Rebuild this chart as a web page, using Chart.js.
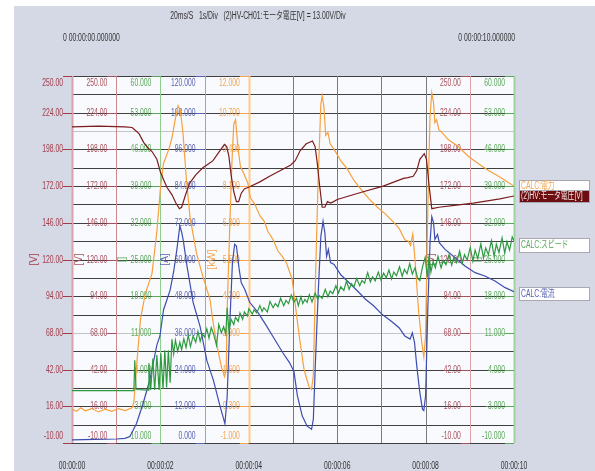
<!DOCTYPE html>
<html>
<head>
<meta charset="utf-8">
<script src="https://cdn.jsdelivr.net/npm/chart.js@4.4.1/dist/chart.umd.min.js"></script>
<style>
  html, body { margin: 0; padding: 0; background: #fff; }
  #wrap { width: 595px; height: 471px; }
</style>
</head>
<body>
<div id="wrap"><canvas id="chart" width="595" height="471"></canvas></div>
<script>
// tick labels
const timeTicks = [0, 2, 4, 6, 8, 10];
const timeLabels = ["00:00:00", "00:00:02", "00:00:04", "00:00:06", "00:00:08", "00:00:10"];
const voltTicks = ["250.00", "224.00", "198.00", "172.00", "146.00", "120.00", "94.00", "68.00", "42.00", "16.00", "-10.00"];
const speedTicks = ["60.000", "53.000", "46.000", "39.000", "32.000", "25.000", "18.000", "11.000", "4.000", "-3.000", "-10.000"];
const currentTicks = ["120.000", "108.000", "96.000", "84.000", "72.000", "60.000", "48.000", "36.000", "24.000", "12.000", "0.000"];
const powerTicks = ["12.000", "10.700", "9.400", "8.100", "6.800", "5.500", "4.200", "2.900", "1.600", "0.300", "-1.000"];

// series, [time s, value]
const voltage = [[0,214],[0.6,214.5],[1.2,214],[1.36,213.5],[1.45,211],[1.52,209],[1.62,203],[1.72,199],[1.81,196.5],[1.92,191],
  [2.0,182],[2.08,176],[2.15,171],[2.26,166],[2.35,160],[2.43,156],[2.48,157],[2.56,165],[2.66,174],[2.8,180],[2.96,185],
  [3.1,188],[3.19,190],[3.3,195],[3.45,201.5],[3.5,200],[3.55,193],[3.6,180],[3.66,168],[3.72,161],[3.77,161],[3.83,167],
  [3.9,170],[4.02,171.5],[4.25,175],[4.47,179],[4.77,184],[4.95,187],[5.05,190],[5.16,197],[5.3,202],[5.44,204],[5.5,200],
  [5.55,188],[5.6,173],[5.66,157],[5.72,157],[5.78,161],[5.85,160],[5.92,161],[6.0,162.5],[6.53,167.5],[7.04,172],[7.5,177.5],
  [7.6,178],[7.72,179],[7.8,183],[7.87,191],[7.97,195],[8.02,191],[8.08,172],[8.14,156],[8.3,157],[8.7,158.5],[9.08,160],
  [9.68,163],[10,165]];

const power = [[0,0.2],[0.1,0.12],[0.2,0.25],[0.3,0.14],[0.45,0.22],[0.6,0.1],[0.75,0.2],[0.9,0.12],[1.05,0.22],[1.2,0.15],
  [1.36,0.25],[1.4,0.45],[1.47,1.9],[1.55,3.4],[1.66,4.3],[1.81,5.0],[1.92,6.5],[2.0,8.0],[2.07,8.9],[2.19,9.4],[2.26,9.8],
  [2.34,10.5],[2.4,10.95],[2.45,10.8],[2.51,10.0],[2.59,8.3],[2.67,7.0],[2.82,5.7],[2.97,4.85],[3.12,4.1],[3.2,3.2],[3.3,2.3],
  [3.38,1.7],[3.45,1.35],[3.49,1.6],[3.51,3.7],[3.57,6.7],[3.62,9.0],[3.66,10.3],[3.7,10.45],[3.76,9.4],[3.81,8.8],[3.87,8.6],
  [3.98,8.2],[4.03,7.7],[4.14,7.45],[4.25,7.05],[4.35,6.85],[4.43,6.5],[4.55,6.2],[4.66,5.8],[4.76,5.6],[4.86,5.35],[4.98,4.8],
  [5.06,3.8],[5.14,2.8],[5.25,1.6],[5.36,1.0],[5.42,0.9],[5.46,1.4],[5.51,4.9],[5.57,8.4],[5.63,11.0],[5.66,11.3],[5.7,10.9],
  [5.74,9.9],[5.79,10.0],[5.84,9.6],[5.93,9.4],[6.08,9.0],[6.23,8.7],[6.38,8.3],[6.53,8.0],[6.72,7.65],[6.91,7.35],[7.1,7.1],
  [7.29,6.8],[7.4,6.6],[7.53,6.2],[7.61,6.15],[7.66,6.0],[7.71,6.4],[7.76,5.5],[7.84,3.7],[7.91,2.6],[7.96,2.05],[8.0,2.8],
  [8.05,7.3],[8.1,10.6],[8.14,11.4],[8.18,11.05],[8.21,10.35],[8.25,10.45],[8.3,10.1],[8.4,9.95],[8.51,9.75],[8.74,9.5],
  [8.97,9.15],[9.19,8.9],[9.42,8.65],[9.65,8.45],[9.8,8.3],[10,8.1]];

const current = [[0,1],[0.5,1.2],[1.0,1.3],[1.2,1.5],[1.31,2.1],[1.46,6.4],[1.61,13],[1.76,20.6],[1.92,32],[1.99,35],[2.07,43.5],
  [2.22,50],[2.3,56],[2.37,63],[2.44,71],[2.48,69],[2.52,66],[2.6,58],[2.74,46],[2.9,38],[3.05,27],[3.2,20.5],[3.35,12],
  [3.46,6.3],[3.51,15],[3.57,39],[3.63,59],[3.68,65],[3.72,64.4],[3.78,57],[3.83,52.4],[3.91,50.2],[4.02,46],[4.21,42.6],
  [4.4,38.3],[4.58,34],[4.77,29.5],[4.92,26.3],[5.02,23.5],[5.1,15.4],[5.21,8.8],[5.32,5.5],[5.42,4.5],[5.46,7.7],[5.51,27.4],
  [5.57,49],[5.63,67.5],[5.68,72.5],[5.72,68.8],[5.76,61],[5.8,63.3],[5.85,59],[5.93,58.4],[6.08,55],[6.27,52.4],[6.46,49.7],
  [6.64,47],[6.83,44.8],[7.02,42],[7.21,40],[7.4,37.7],[7.53,35],[7.65,34],[7.7,36],[7.75,32.8],[7.8,25.2],[7.87,16.4],
  [7.93,11],[7.96,10.6],[8.0,15.4],[8.05,43.7],[8.1,65.5],[8.14,74],[8.18,72],[8.21,66.6],[8.27,68.2],[8.31,65.5],[8.44,63.3],
  [8.67,60.6],[8.89,57.9],[9.12,55.7],[9.34,54.6],[9.57,53],[9.8,50.8],[10,49.5]];

const speed = [[0,0],[1.4,0],[1.42,5.8],[1.45,0.2],[1.72,0.1],[1.74,5.2],[1.78,0.1],[1.83,6.1],[1.87,0.1],[1.92,6.8],[1.97,0.1],
  [2.01,7.1],[2.06,0.3],[2.1,7.7],[2.14,0.6],[2.18,7.7],[2.22,1.5],[2.26,9.8],[2.3,7.0],[2.34,9.6],[2.39,7.5],[2.44,9.2],
  [2.48,7.8],[2.53,9.9],[2.58,8.2],[2.63,10.6],[2.68,8.4],[2.74,10.4],[2.8,9.2],[2.85,11.3],[2.9,9.4],[2.95,10.8],[3.0,10.2],
  [3.05,11.8],[3.1,10.0],[3.15,12.0],[3.2,10.9],[3.27,8.6],[3.32,12.6],[3.38,11.0],[3.43,12.2],[3.48,10.8],[3.51,15.8],
  [3.55,11.4],[3.6,13.6],[3.66,12.6],[3.7,14.0],[3.76,13.2],[3.8,14.8],[3.86,13.6],[3.9,15.0],[3.97,14.2],[4.0,15.6],
  [4.08,14.6],[4.12,15.4],[4.18,14.8],[4.25,16.2],[4.3,15.1],[4.34,15.8],[4.42,15.0],[4.48,17.0],[4.55,15.8],[4.6,16.6],
  [4.66,16.0],[4.72,17.6],[4.79,16.2],[4.84,17.2],[4.9,16.6],[4.96,18.2],[5.02,16.8],[5.08,17.6],[5.12,16.2],[5.18,17.9],
  [5.22,16.6],[5.27,17.4],[5.32,16.8],[5.37,18.3],[5.43,16.9],[5.5,18.6],[5.56,17.4],[5.6,18.1],[5.66,17.6],[5.73,19.3],
  [5.79,17.9],[5.84,19.0],[5.9,18.5],[5.97,20.0],[6.03,18.6],[6.08,19.8],[6.15,19.1],[6.21,20.9],[6.27,19.3],[6.32,20.4],
  [6.38,19.8],[6.44,21.4],[6.51,20.0],[6.56,21.0],[6.62,20.5],[6.69,22.5],[6.75,20.7],[6.8,21.7],[6.86,20.9],[6.93,22.6],
  [6.99,21.1],[7.05,22.4],[7.11,21.5],[7.17,23.0],[7.23,21.3],[7.28,22.6],[7.34,21.9],[7.41,23.6],[7.47,21.8],[7.52,23.1],
  [7.58,22.3],[7.64,24.2],[7.7,22.2],[7.76,23.4],[7.82,21.4],[7.87,21.0],[7.93,23.6],[7.99,25.4],[8.04,21.6],[8.08,25.8],
  [8.12,22.6],[8.17,24.6],[8.22,23.4],[8.28,25.6],[8.35,23.4],[8.4,24.8],[8.46,24.0],[8.53,25.9],[8.59,23.9],[8.64,25.4],
  [8.7,24.4],[8.77,26.6],[8.83,24.3],[8.88,25.9],[8.94,24.9],[9.01,27.3],[9.07,24.7],[9.12,26.8],[9.18,25.2],[9.25,28.0],
  [9.31,25.3],[9.36,27.2],[9.42,25.9],[9.49,28.6],[9.55,25.6],[9.6,27.9],[9.66,26.3],[9.73,29.1],[9.79,26.2],[9.84,28.4],
  [9.9,26.8],[9.96,29.3],[10,28.6]];

const FONT = '10px "Liberation Sans", "Noto Sans CJK JP", sans-serif';
const SQ = 0.68; // narrow scope font

function txt(ctx, s, x, y, color, align) {
  ctx.save();
  ctx.translate(x, y);
  ctx.scale(SQ, 1);
  ctx.font = FONT;
  ctx.fillStyle = color;
  ctx.textAlign = align || "left";
  ctx.textBaseline = "middle";
  ctx.fillText(s, 0, 0);
  ctx.restore();
}

function vtxt(ctx, s, x, y, color) {
  ctx.save();
  ctx.translate(x, y);
  ctx.rotate(-Math.PI / 2);
  ctx.font = FONT;
  ctx.fillStyle = color;
  ctx.textAlign = "center";
  ctx.textBaseline = "middle";
  ctx.fillText(s, 0, 0);
  ctx.restore();
}

const RED = "#a8505c", GREEN = "#5aa85a", BLUE = "#5a64b4", ORANGE = "#f4a452";

// label columns: which scale, which time gridline they sit against
const columns = [
  { ticks: voltTicks, scale: "yV", at: 0, color: "#a33c4a" },
  { ticks: voltTicks, scale: "yV", at: 1, color: RED },
  { ticks: speedTicks, scale: "yS", at: 2, color: GREEN },
  { ticks: currentTicks, scale: "yI", at: 3, color: BLUE },
  { ticks: powerTicks, scale: "yP", at: 4, color: ORANGE },
  { ticks: voltTicks, scale: "yV", at: 9, color: RED },
  { ticks: speedTicks, scale: "yS", at: 10, color: GREEN }
];
const vLines = ["#d9a3ad", "#cf8a90", "#8fd08f", "#9aa0d8", "#ffc98a", "#7a7a7a", "#7a7a7a", "#7a7a7a", "#7a7a7a", "#dca4a4", "#9ed49e"];

const scopePlugin = {
  id: "scope",
  beforeDraw(chart) {
    const { ctx, chartArea: a, scales } = chart;
    const xs = scales.x, yV = scales.yV;
    ctx.save();
    ctx.fillStyle = "#fff";
    ctx.fillRect(0, 0, chart.width, chart.height);
    ctx.fillStyle = "#d5d8e5";
    ctx.fillRect(14, 6, chart.width - 14, chart.height - 6);
    ctx.fillStyle = "#f9fafd";
    ctx.fillRect(a.left, a.top, a.right - a.left, a.bottom - a.top);

    // header
    txt(ctx, "20ms/S   1s/Div   (2)HV-CH01:モータ電圧[V] = 13.00V/Div", 258, 16, "#333", "center");
    txt(ctx, "0 00:00:00.000000", 63, 38, "#333", "left");
    txt(ctx, "0 00:00:10.000000", 515, 38, "#333", "right");

    // horizontal grid, 13 V per division
    ctx.lineWidth = 1;
    for (let v = -10; v <= 250; v += 13) {
      const y = Math.round(yV.getPixelForValue(v)) + 0.5;
      ctx.strokeStyle = (v === 211 || v === 68) ? "#c4c4c8" : "#404040";
      ctx.beginPath(); ctx.moveTo(a.left, y); ctx.lineTo(a.right, y); ctx.stroke();
    }
    // vertical grid, 1 s per division
    for (let t = 0; t <= 10; t++) {
      const x = Math.round(xs.getPixelForValue(t)) + 0.5;
      ctx.strokeStyle = vLines[t];
      ctx.lineWidth = (t === 0 || t === 4 || t === 10) ? 2 : 1;
      ctx.beginPath(); ctx.moveTo(x, a.top); ctx.lineTo(x, a.bottom); ctx.stroke();
    }

    // label columns with small coloured ticks
    columns.forEach(c => {
      const sc = scales[c.scale];
      const x = xs.getPixelForValue(c.at);
      c.ticks.forEach((s, i) => {
        const y = Math.round(sc.getPixelForValue(parseFloat(s))) + 0.5;
        ctx.strokeStyle = c.color;
        ctx.lineWidth = 1;
        ctx.beginPath(); ctx.moveTo(x - 9, y); ctx.lineTo(x, y); ctx.stroke();
        let ly = y;
        if (i === 0) ly += 7;
        if (i === c.ticks.length - 1) ly -= 7;
        txt(ctx, s, x - 9, ly, c.color, "right");
      });
    });

    // unit labels
    const uy = yV.getPixelForValue(120);
    vtxt(ctx, "[V]", 34, uy, "#a33c4a");
    vtxt(ctx, "[V]", xs.getPixelForValue(0) + 7, uy, RED);
    vtxt(ctx, "[]", xs.getPixelForValue(1) + 6, uy, GREEN);
    vtxt(ctx, "[A]", xs.getPixelForValue(2) + 5, uy, BLUE);
    vtxt(ctx, "[kW]", xs.getPixelForValue(3) + 8, uy, ORANGE);
    vtxt(ctx, "[V]", xs.getPixelForValue(8) + 6, uy, RED);
    vtxt(ctx, "[]", xs.getPixelForValue(9) + 7, uy, GREEN);

    // time labels
    timeTicks.forEach((t, i) => {
      txt(ctx, timeLabels[i], xs.getPixelForValue(t), 466, "#333", "center");
    });
    ctx.restore();
  },
  afterDraw(chart) {
    const ctx = chart.ctx;
    const boxes = [
      { s: "CALC:電力", top: 180, h: 11, fill: "#fff", color: ORANGE },
      { s: "(2)HV:モータ電圧[V]", top: 190, h: 12, fill: "#6d0f12", color: "#f6e6e6" },
      { s: "CALC:スピード", top: 238, h: 14, fill: "#fff", color: GREEN },
      { s: "CALC:電流", top: 287, h: 13, fill: "#fff", color: BLUE }
    ];
    ctx.save();
    boxes.forEach(b => {
      ctx.fillStyle = b.fill;
      ctx.fillRect(519, b.top, 70, b.h);
      ctx.strokeStyle = "#a8a8b0";
      ctx.lineWidth = 1;
      ctx.strokeRect(519.5, b.top + 0.5, 70, b.h);
      txt(ctx, b.s, 521, b.top + b.h / 2 + 0.5, b.color, "left");
    });
    ctx.restore();
  }
};

const pts = arr => arr.map(p => ({ x: p[0], y: p[1] }));

new Chart(document.getElementById("chart"), {
  type: "line",
  data: {
    datasets: [
      { label: "(2)HV:モータ電圧[V]", data: pts(voltage), yAxisID: "yV", borderColor: "#7c1d1d" },
      { label: "CALC:スピード", data: pts(speed), yAxisID: "yS", borderColor: "#2e9a40" },
      { label: "CALC:電流", data: pts(current), yAxisID: "yI", borderColor: "#3e4db0" },
      { label: "CALC:電力", data: pts(power), yAxisID: "yP", borderColor: "#f7a03c" }
    ]
  },
  options: {
    responsive: false,
    animation: false,
    events: [],
    datasets: { line: { borderWidth: 1.2, pointRadius: 0, tension: 0, fill: false } },
    layout: { padding: { left: 72, top: 76, right: 81, bottom: 28 } },
    plugins: { legend: { display: false }, tooltip: { enabled: false } },
    scales: {
      x: { type: "linear", min: 0, max: 10, display: false },
      yV: { type: "linear", min: -10, max: 250, display: false },
      yS: { type: "linear", min: -10, max: 60, display: false },
      yI: { type: "linear", min: 0, max: 120, display: false },
      yP: { type: "linear", min: -1, max: 12, display: false }
    }
  },
  plugins: [scopePlugin]
});
</script>
</body>
</html>
